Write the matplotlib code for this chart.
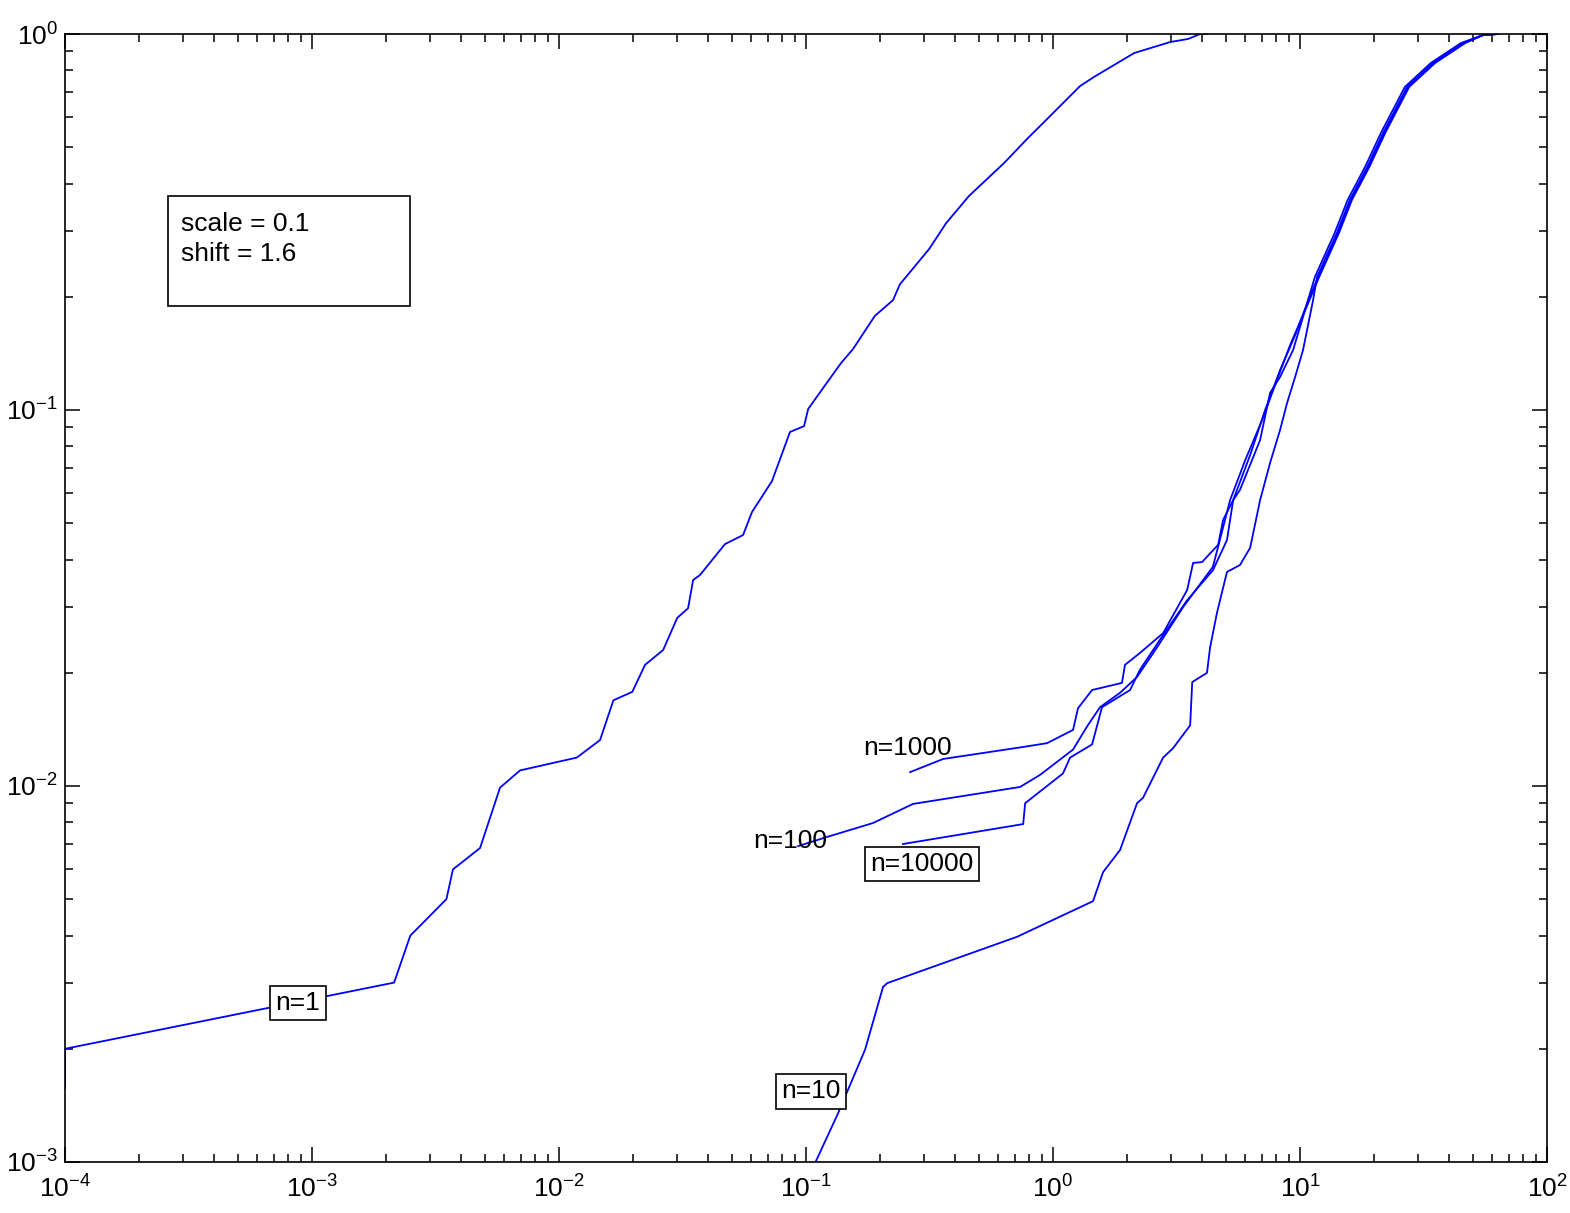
import matplotlib
matplotlib.use('Agg')
import matplotlib.pyplot as plt
from matplotlib.patches import Rectangle

plt.rcParams['font.family'] = ['Liberation Sans', 'DejaVu Sans']
plt.rcParams['mathtext.fontset'] = 'custom'
plt.rcParams['mathtext.rm'] = 'Liberation Sans'
plt.rcParams['mathtext.it'] = 'Liberation Sans'
plt.rcParams['mathtext.bf'] = 'Liberation Sans'

# n = 1 sample curve
n1_x = [1e-4, 1e-4, 0.00215, 0.0025, 0.0035, 0.00372, 0.00479, 0.00577, 0.00695, 0.0118,
        0.01466, 0.0166, 0.0198, 0.0223, 0.0264, 0.0301, 0.0333, 0.0349, 0.0372, 0.047,
        0.0556, 0.0604, 0.0728, 0.0861, 0.0982, 0.102, 0.1205, 0.1387, 0.155, 0.19,
        0.225, 0.24, 0.315, 0.369, 0.457, 0.634, 0.785, 0.929, 1.286, 1.466,
        2.13, 2.98, 3.52, 3.94, 4.2]
n1_y = [0.00157, 0.002, 0.003, 0.004, 0.005, 0.006, 0.00684, 0.0099, 0.011, 0.0119,
        0.01325, 0.0169, 0.0178, 0.021, 0.023, 0.028, 0.0297, 0.0353, 0.0364, 0.044,
        0.0465, 0.0535, 0.0647, 0.0874, 0.0906, 0.1006, 0.1173, 0.1334, 0.1453, 0.178,
        0.196, 0.216, 0.268, 0.314, 0.371, 0.454, 0.526, 0.587, 0.727, 0.769,
        0.890, 0.952, 0.97, 1.0, 1.0]

# n = 10
n10_x = [0.1077, 0.1336, 0.1734, 0.205, 0.213, 0.714, 1.452, 1.594, 1.868, 2.188,
         2.313, 2.79, 3.06, 3.59, 3.66, 4.20, 4.32, 4.61, 5.06, 5.71,
         6.28, 6.89, 7.56, 8.30, 8.86, 9.55, 10.28, 11.29]
n10_y = [0.00098, 0.00133, 0.00199, 0.00292, 0.00299, 0.00397, 0.00494, 0.0059, 0.00676, 0.0090,
         0.0093, 0.0119, 0.0126, 0.0145, 0.0189, 0.0200, 0.0233, 0.0289, 0.0371, 0.0387,
         0.0430, 0.0576, 0.0723, 0.0885, 0.1044, 0.1224, 0.1444, 0.196]

# n = 100
n100_x = [0.0929, 0.1216, 0.1866, 0.271, 0.735, 0.885, 1.205, 1.373, 1.549, 1.868,
          2.188, 2.64, 3.36, 4.44, 5.21, 6.0, 7.02, 7.92, 9.12, 10.5]
n100_y = [0.00692, 0.00732, 0.00797, 0.00896, 0.00994, 0.0107, 0.0125, 0.0144, 0.0162, 0.0177,
          0.0195, 0.0234, 0.0299, 0.0383, 0.0576, 0.0736, 0.094, 0.1165, 0.149, 0.1845]

# n = 1000
n1000_x = [0.264, 0.359, 0.757, 0.946, 1.205, 1.262, 1.439, 1.90, 1.956, 2.25,
           2.79, 3.49, 3.69, 4.01, 4.66, 4.88, 5.36, 5.71, 6.89, 7.56,
           8.30, 9.37, 10.28]
n1000_y = [0.01089, 0.0118, 0.0127, 0.0130, 0.0141, 0.0161, 0.0180, 0.0188, 0.0210, 0.0226,
           0.0255, 0.0332, 0.0392, 0.0394, 0.0438, 0.0510, 0.0576, 0.0613, 0.0832, 0.111,
           0.1224, 0.1444, 0.1768]

# n = 10000
n10000_x = [0.247, 0.757, 0.771, 1.097, 1.172, 1.439, 1.578, 2.05, 2.25, 2.71,
            3.49, 4.44, 5.06, 5.36, 6.28, 7.22, 8.30, 9.55, 10.8]
n10000_y = [0.00701, 0.00792, 0.0090, 0.0108, 0.0119, 0.0129, 0.0162, 0.0180, 0.0204, 0.0245,
            0.0312, 0.0375, 0.0451, 0.0576, 0.0759, 0.100, 0.1277, 0.158, 0.196]

# common upper tail where the large-n curves merge
tail_x = [11.72, 14.1, 15.9, 18.7, 21.7, 27.1, 34.5, 45.7, 55.1, 63.4]
tail_y = [0.226, 0.296, 0.362, 0.443, 0.546, 0.723, 0.837, 0.946, 0.994, 1.0]
tail_dx = [1.0, 1.02, 0.98, 1.01]

fig = plt.figure(figsize=(15.70, 12.13), dpi=100)
ax = fig.add_axes([0.0414, 0.04205, 0.944, 0.92992])

ax.plot(n1_x, n1_y, color='blue', lw=1.3)
curves = [(n10_x, n10_y), (n100_x, n100_y), (n1000_x, n1000_y), (n10000_x, n10000_y)]
for (cx, cy), d in zip(curves, tail_dx):
    ax.plot(cx + [v * d for v in tail_x[:-2]] + tail_x[-2:], cy + tail_y, color='blue', lw=1.3)

ax.set_xscale('log')
ax.set_yscale('log')
ax.set_xlim(1e-4, 1e2)
ax.set_ylim(1e-3, 1e0)

ax.tick_params(which='both', direction='in', top=True, right=True, labelsize=19, width=1.1)
ax.tick_params(which='major', length=11)
ax.tick_params(which='minor', length=6)
ax.tick_params(axis='x', which='major', pad=10)
ax.tick_params(axis='y', which='major', pad=5)
for s in ax.spines.values():
    s.set_linewidth(1.2)

box = dict(boxstyle='square,pad=0.2', facecolor='white', edgecolor='black', lw=1.2)
ax.text(8.77e-4, 0.00265, 'n=1', fontsize=19, ha='center', va='center', bbox=box, zorder=5)
ax.text(0.1047, 0.00154, 'n=10', fontsize=19, ha='center', va='center', bbox=box, zorder=5)
ax.text(0.0861, 0.00714, 'n=100', fontsize=19, ha='center', va='center', zorder=5)
ax.text(0.2565, 0.0126, 'n=1000', fontsize=19, ha='center', va='center', zorder=5)
ax.text(0.295, 0.0062, 'n=10000', fontsize=19, ha='center', va='center', bbox=box, zorder=5)

ax.add_patch(Rectangle((0.0695, 0.7589), 0.1635, 0.0975, transform=ax.transAxes,
                       facecolor='white', edgecolor='black', lw=1.2, zorder=5))
ax.text(0.0783, 0.8425, 'scale = 0.1\nshift = 1.6', transform=ax.transAxes, fontsize=19,
        ha='left', va='top', linespacing=1.35, zorder=6)

plt.savefig('out.png', dpi=100)
